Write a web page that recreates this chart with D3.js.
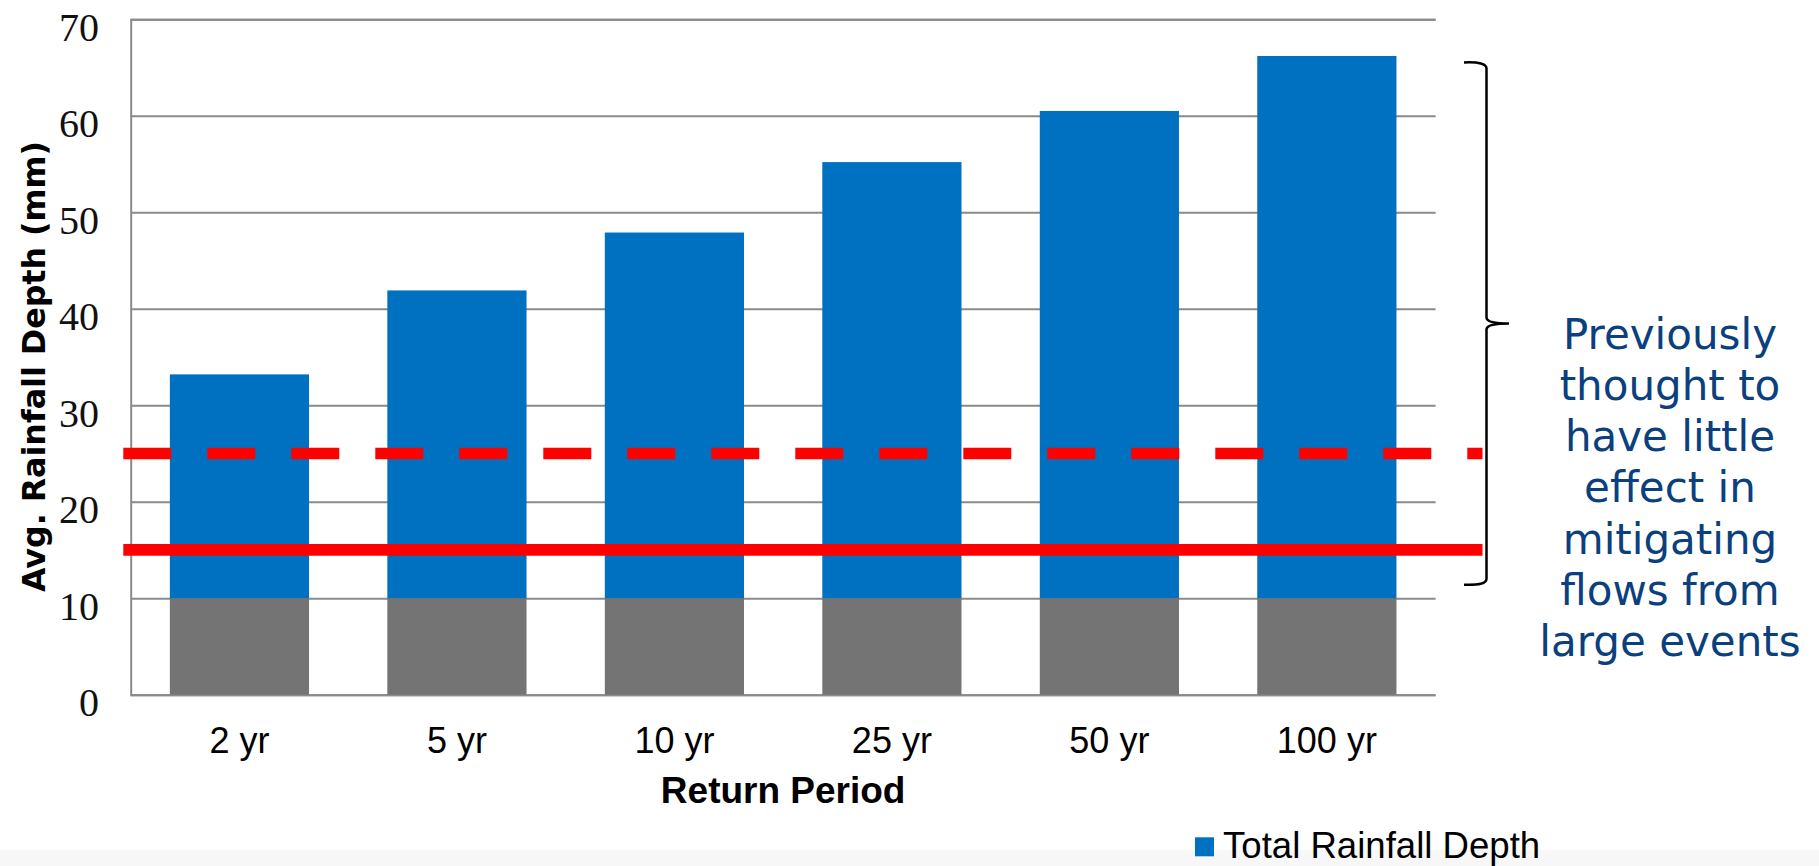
<!DOCTYPE html>
<html>
<head>
<meta charset="utf-8">
<script src="https://cdn.jsdelivr.net/npm/d3@7"></script>
<style>
  html, body { margin: 0; padding: 0; background: #ffffff; }
  svg { display: block; }
</style>
</head>
<body>
<svg id="chart" width="1819" height="866"></svg>
<script>
// Return periods and average rainfall depths (mm)
const categories = ["2 yr", "5 yr", "10 yr", "25 yr", "50 yr", "100 yr"];
const totalDepth = [33.2, 41.9, 47.9, 55.2, 60.5, 66.2];
const baseDepth = [10, 10, 10, 10, 10, 10];
const yTicks = [0, 10, 20, 30, 40, 50, 60, 70];
// Reference design-storm depths drawn as horizontal lines
const dashedLineValue = 25;
const solidLineValue = 15;
const noteLines = ["Previously", "thought to", "have little", "effect in", "mitigating", "flows from", "large events"];
const bracketRange = [66.2, 11.3];

const svg = d3.select("#chart");
const plotLeft = 130.7, plotRight = 1435.6, plotTop = 19.3, plotBottom = 694.7;

const x = d3.scaleBand()
  .domain(categories)
  .range([plotLeft, plotRight])
  .paddingInner(0.36)
  .paddingOuter(0.18);

const y = d3.scaleLinear().domain([0, 70]).range([plotBottom, plotTop]);

// bottom band of the slide
svg.append("rect")
  .attr("x", 0).attr("y", 850).attr("width", 1819).attr("height", 16)
  .attr("fill", "#f7f7f7");

// gridlines and y tick labels
const yAxis = svg.append("g")
  .attr("transform", `translate(${plotLeft},0)`)
  .call(d3.axisLeft(y).tickValues(yTicks).tickSize(-(plotRight - plotLeft)).tickPadding(31.7));
yAxis.select(".domain").attr("stroke", "#8a8a8a").attr("stroke-width", 2);
yAxis.selectAll(".tick line").attr("stroke", "#8a8a8a").attr("stroke-width", 2);
yAxis.selectAll(".tick text")
  .attr("dy", 21)
  .attr("fill", "#111")
  .style("font-family", "'Liberation Serif', serif")
  .style("font-size", "40px");

// bars: grey base and blue remainder
const bars = svg.append("g");
bars.selectAll("rect.base")
  .data(categories)
  .join("rect")
  .attr("class", "base")
  .attr("x", d => x(d))
  .attr("width", x.bandwidth())
  .attr("y", (d, i) => y(baseDepth[i]))
  .attr("height", (d, i) => y(0) - y(baseDepth[i]))
  .attr("fill", "#747474");

bars.selectAll("rect.total")
  .data(categories)
  .join("rect")
  .attr("class", "total")
  .attr("x", d => x(d))
  .attr("width", x.bandwidth())
  .attr("y", (d, i) => y(totalDepth[i]))
  .attr("height", (d, i) => y(baseDepth[i]) - y(totalDepth[i]))
  .attr("fill", "#0070c0");

// x tick labels
svg.append("g")
  .selectAll("text")
  .data(categories)
  .join("text")
  .attr("x", d => x(d) + x.bandwidth() / 2)
  .attr("y", 753)
  .attr("text-anchor", "middle")
  .style("font-family", "'Liberation Sans', Arial, sans-serif")
  .style("font-size", "36px")
  .attr("fill", "#000")
  .text(d => d);

// axis titles
svg.append("text")
  .attr("x", (plotLeft + plotRight) / 2)
  .attr("y", 803)
  .attr("text-anchor", "middle")
  .style("font-family", "'Liberation Sans', Arial, sans-serif")
  .style("font-size", "37px")
  .style("font-weight", "bold")
  .text("Return Period");

svg.append("text")
  .attr("transform", "translate(45,366.5) rotate(-90)")
  .attr("text-anchor", "middle")
  .style("font-family", "'DejaVu Sans', sans-serif")
  .style("font-size", "31.7px")
  .style("font-weight", "bold")
  .text("Avg. Rainfall Depth (mm)");

// horizontal reference lines
const lineX0 = 123.3, lineX1 = 1482.5;
svg.append("line")
  .attr("x1", lineX0).attr("x2", lineX1)
  .attr("y1", y(dashedLineValue)).attr("y2", y(dashedLineValue))
  .attr("stroke", "#ff0000").attr("stroke-width", 11.7)
  .attr("stroke-dasharray", "48 36");
svg.append("line")
  .attr("x1", lineX0).attr("x2", lineX1)
  .attr("y1", y(solidLineValue)).attr("y2", y(solidLineValue))
  .attr("stroke", "#ff0000").attr("stroke-width", 11.7);

// curly bracket
const bx = 1486.5, bTop = y(bracketRange[0]) + 6.5, bBot = y(bracketRange[1]) - 1;
const bMid = (bTop + bBot) / 2;
const bp = d3.path();
bp.moveTo(1464, bTop);
bp.quadraticCurveTo(bx, bTop - 1, bx, bTop + 6);
bp.lineTo(bx, bMid - 6);
bp.quadraticCurveTo(bx, bMid, 1509, bMid);
bp.quadraticCurveTo(bx, bMid, bx, bMid + 6);
bp.lineTo(bx, bBot - 6);
bp.quadraticCurveTo(bx, bBot + 1, 1464, bBot);
svg.append("path")
  .attr("d", bp.toString())
  .attr("fill", "none")
  .attr("stroke", "#000")
  .attr("stroke-width", 2.5);

// annotation text
svg.append("g")
  .selectAll("text")
  .data(noteLines)
  .join("text")
  .attr("x", 1670)
  .attr("y", (d, i) => 349 + i * 51.15)
  .attr("text-anchor", "middle")
  .style("font-family", "'DejaVu Sans', Verdana, sans-serif")
  .style("font-size", "42px")
  .attr("fill", "#0b3f7e")
  .text(d => d);

// legend
svg.append("rect")
  .attr("x", 1195).attr("y", 837.3).attr("width", 19).attr("height", 19)
  .attr("fill", "#0070c0");
svg.append("text")
  .attr("x", 1223)
  .attr("y", 858.3)
  .style("font-family", "'Liberation Sans', Arial, sans-serif")
  .style("font-size", "36.6px")
  .attr("fill", "#000")
  .text("Total Rainfall Depth");
</script>
</body>
</html>
